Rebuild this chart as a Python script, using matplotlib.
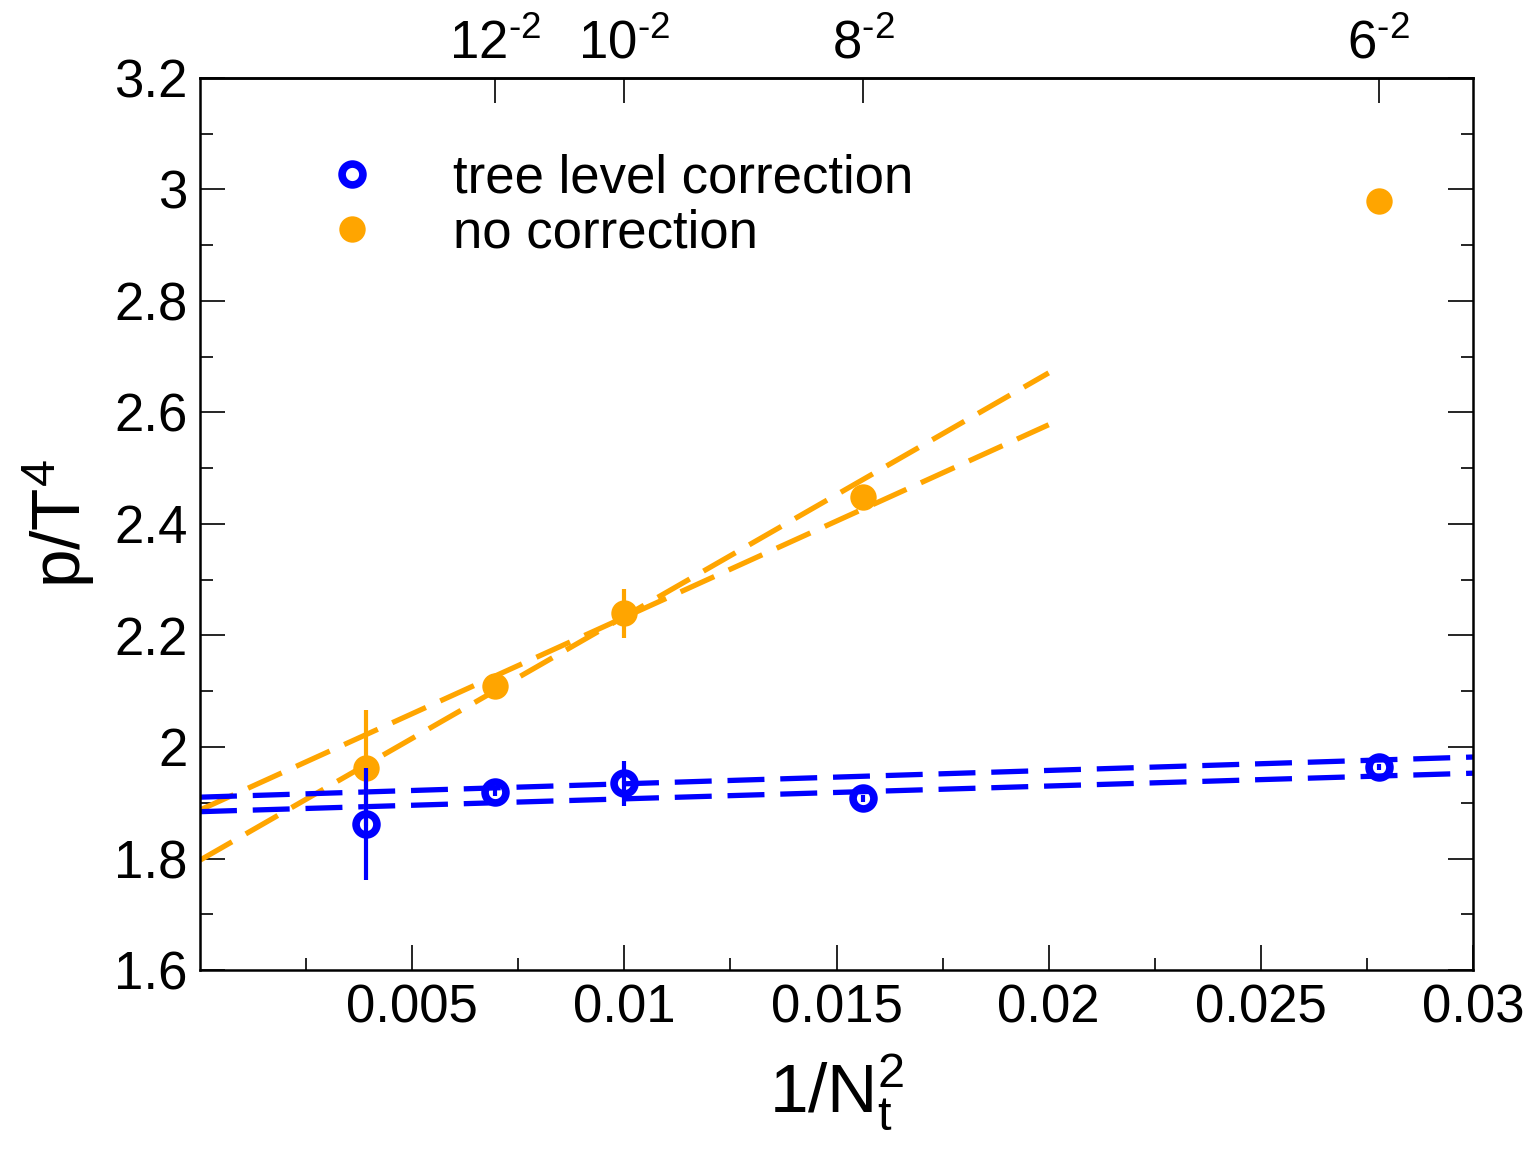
import numpy as np
import matplotlib
matplotlib.use("Agg")
import matplotlib.pyplot as plt
from matplotlib.lines import Line2D

# ── data ─────────────────────────────────────────────────────────────────────
nt = np.array([16, 12, 10, 8, 6])
x = 1.0 / nt**2

y_tree = [1.862, 1.919, 1.935, 1.908, 1.964]
e_tree = [0.100, 0.006, 0.040, 0.006, 0.006]

y_none = [1.962, 2.110, 2.240, 2.448, 2.979]
e_none = [0.104, 0.006, 0.044, 0.006, 0.006]

# dashed fit lines: (x0, y0, x1, y1)
fit_tree = [(0.0, 1.910, 0.030, 1.982), (0.0, 1.884, 0.030, 1.953)]
fit_none = [(0.0, 1.887, 0.020, 2.578), (0.0, 1.797, 0.020, 2.671)]

top_nt = [12, 10, 8, 6]
labels = ["tree level correction", "no correction"]

BLUE = "#0000ff"
ORANGE = "#ffa500"
FS = 38

plt.rcParams["font.family"] = ["Liberation Sans", "DejaVu Sans"]
plt.rcParams["mathtext.fontset"] = "custom"
plt.rcParams["mathtext.rm"] = "Liberation Sans"
plt.rcParams["mathtext.it"] = "Liberation Sans"
plt.rcParams["mathtext.default"] = "regular"

fig = plt.figure(figsize=(15.29, 11.67), dpi=100)
ax = fig.add_axes([0.1308, 0.1688, 0.8326, 0.7644])

dash = (7, 3)
for x0, y0, x1, y1 in fit_none:
    ax.plot([x0, x1], [y0, y1], color=ORANGE, lw=3.8, dashes=dash, zorder=2)
for x0, y0, x1, y1 in fit_tree:
    ax.plot([x0, x1], [y0, y1], color=BLUE, lw=3.8, dashes=dash, zorder=2)

orange_kw = dict(marker="o", color=ORANGE, ms=19, mew=0)
blue_kw = dict(marker="o", color=BLUE, mfc="none", mec=BLUE, ms=15, mew=5.5)

ax.errorbar(x, y_none, yerr=e_none, ls="none", elinewidth=3, capsize=0,
            zorder=3, **orange_kw)
ax.errorbar(x, y_tree, yerr=e_tree, ls="none", elinewidth=3, capsize=0,
            zorder=4, **blue_kw)

ax.set_xlim(0, 0.03)
ax.set_ylim(1.6, 3.2)
ax.set_xticks([0.005, 0.01, 0.015, 0.02, 0.025, 0.03])
ax.set_xticklabels(["0.005", "0.01", "0.015", "0.02", "0.025", "0.03"])
ax.set_xticks(np.arange(0.0025, 0.03, 0.005), minor=True)
ax.set_yticks(np.arange(1.6, 3.21, 0.2))
ax.set_yticklabels(["1.6", "1.8", "2", "2.2", "2.4", "2.6", "2.8", "3", "3.2"])
ax.set_yticks(np.arange(1.7, 3.2, 0.2), minor=True)

ax.tick_params(which="both", direction="in", width=1.2, labelsize=FS,
               bottom=True, left=True, right=True, top=False)
ax.tick_params(which="major", length=18)
ax.tick_params(which="minor", length=9)
ax.tick_params(axis="x", pad=10)
ax.tick_params(axis="y", pad=9)
for s in ax.spines.values():
    s.set_linewidth(1.8)

top = ax.secondary_xaxis("top")
top.set_xticks([1.0 / n**2 for n in top_nt])
top.set_xticklabels([rf"${n}^{{\text{{-}}2}}$" for n in top_nt])
top.tick_params(direction="in", length=18, width=1.2, labelsize=FS, pad=6)
top.spines["top"].set_linewidth(1.8)

ax.set_ylabel(r"p/T$^4$", fontsize=50, labelpad=12)
ax.set_xlabel(r"$1/N_t^2$", fontsize=50, labelpad=14)

handles = [Line2D([], [], ls="none", **blue_kw),
           Line2D([], [], ls="none", **orange_kw)]
ax.legend(handles, labels, loc="upper left", bbox_to_anchor=(0.0985, 0.915),
          frameon=False, fontsize=FS, handlelength=1.0, handletextpad=1.42,
          borderpad=0, borderaxespad=0, labelspacing=0.08, numpoints=1)

fig.savefig("out.png", dpi=100)
